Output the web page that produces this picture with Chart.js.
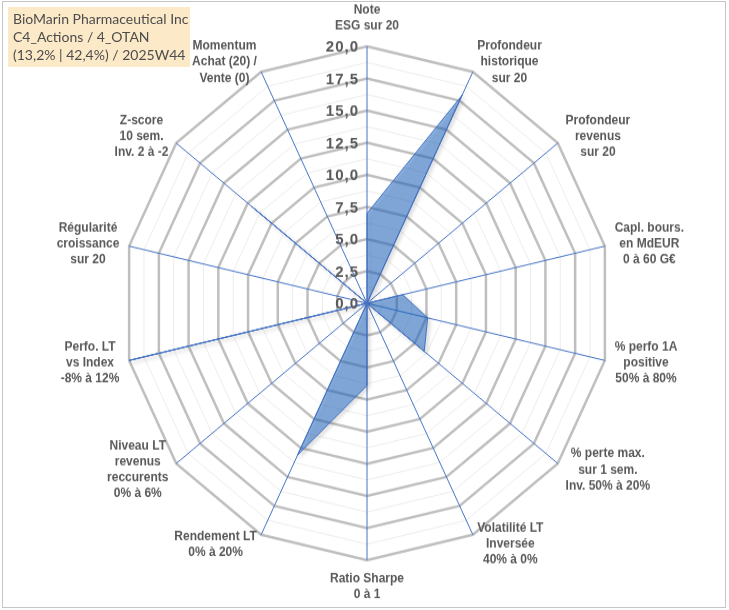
<!DOCTYPE html>
<html>
<head>
<meta charset="utf-8">
<script src="https://cdn.jsdelivr.net/npm/chart.js@4.4.1/dist/chart.umd.min.js"></script>
<style>
  html, body { margin: 0; padding: 0; background: #fff; }
  #cadre { position: absolute; left: 2px; top: 1px; width: 722px; height: 605px; border: 1px solid #c6c6c6; }
  /* le graphique Excel est un peu étiré en hauteur */
  #zone { position: absolute; left: 0; top: 0; width: 729px; height: 579px; transform: scaleY(1.053); transform-origin: 0 0; }
  #titre {
    position: absolute; left: 8px; top: 7px; width: 182px; height: 60px;
    background: rgba(250, 212, 145, 0.5);
    font: 14px Lato, "Liberation Sans", sans-serif; color: #4d4d4d;
    line-height: 18px; padding: 3px 0 0 5px; box-sizing: border-box; white-space: nowrap;
  }
</style>
</head>
<body>
<div id="cadre"></div>
<div id="zone"><canvas id="radar" width="729" height="579"></canvas></div>
<div id="titre">BioMarin Pharmaceutical Inc<br>C4_Actions / 4_OTAN<br>(13,2% | 42,4%) / 2025W44</div>
<script>
// axes du radar
var categories = [
  ['Note', 'ESG sur 20'],
  ['Profondeur', 'historique', 'sur 20'],
  ['Profondeur', 'revenus', 'sur 20'],
  ['Capl. bours.', 'en MdEUR', '0 à 60 G€'],
  ['% perfo 1A', 'positive', '50% à 80%'],
  ['% perte max.', 'sur 1 sem.', 'Inv. 50% à 20%'],
  ['Volatilité LT', 'Inversée', '40% à 0%'],
  ['Ratio Sharpe', '0 à 1'],
  ['Rendement LT', '0% à 20%'],
  ['Niveau LT', 'revenus', 'reccurents', '0% à 6%'],
  ['Perfo. LT', 'vs Index', '-8% à 12%'],
  ['Régularité', 'croissance', 'sur 20'],
  ['Z-score', '10 sem.', 'Inv. 2 à -2'],
  ['Momentum', 'Achat (20) /', 'Vente (0)']
];
// notes sur 20
var notes = [7.0, 18.0, 0, 3.0, 5.1, 6.0, 0, 6.4, 13.1, 0, 20.0, 0, 12.1, 0];
// graduations affichées
var graduations = [0, 2.5, 5, 7.5, 10, 12.5, 15, 17.5, 20];

function fmt(v) {
  return v.toFixed(1).replace('.', ',');
}

// ombre portée de la série, comme dans Excel
var ombre = {
  id: 'ombre',
  beforeDatasetsDraw: function (chart) {
    var ctx = chart.ctx;
    ctx.save();
    ctx.shadowColor = 'rgba(0,0,0,0.25)';
    ctx.shadowBlur = 4;
    ctx.shadowOffsetX = 2;
    ctx.shadowOffsetY = 2;
  },
  afterDatasetsDraw: function (chart) {
    chart.ctx.restore();
  }
};

// étiquettes des axes (lignes centrées) et graduations
var etiquettes = {
  id: 'etiquettes',
  afterDraw: function (chart) {
    var r = chart.scales.r;
    var ctx = chart.ctx;
    var pas = 15.2;
    ctx.save();
    ctx.fillStyle = '#595959';
    ctx.textAlign = 'center';
    ctx.textBaseline = 'middle';
    ctx.font = 'bold 12px "Liberation Sans", Arial, sans-serif';
    categories.forEach(function (lignes, i) {
      var p = r.getPointPosition(i, r.drawingArea + 10);
      var larg = 0;
      lignes.forEach(function (l) { larg = Math.max(larg, ctx.measureText(l).width); });
      var haut = lignes.length * pas;
      var dx = Math.cos(p.angle), dy = Math.sin(p.angle);
      var cx = p.x, cy = p.y;
      if (dx > 0.05) cx = p.x + larg / 2;
      else if (dx < -0.05) cx = p.x - larg / 2;
      else if (dy < 0) cy = p.y - haut / 2 - 2;
      else cy = p.y + haut / 2;
      lignes.forEach(function (l, j) {
        ctx.fillText(l, cx, cy - haut / 2 + pas * (j + 0.5));
      });
    });

    ctx.font = 'bold 15px "Liberation Sans", Arial, sans-serif';
    ctx.textAlign = 'right';
    if ('letterSpacing' in ctx) ctx.letterSpacing = '1px';
    graduations.forEach(function (v) {
      var p = r.getPointPosition(0, r.getDistanceFromCenterForValue(v));
      ctx.fillText(fmt(v), p.x - 8, p.y + 1);
    });
    ctx.restore();
  }
};

new Chart(document.getElementById('radar').getContext('2d'), {
  type: 'radar',
  data: {
    labels: categories,
    datasets: [{
      data: notes,
      fill: true,
      backgroundColor: 'rgba(30, 108, 205, 0.5)',
      borderColor: '#4472C4',
      borderWidth: 1,
      pointRadius: 0,
      tension: 0
    }]
  },
  options: {
    responsive: false,
    animation: false,
    layout: { padding: { left: 123, right: 118, top: 44, bottom: 47 } },
    plugins: { legend: { display: false }, tooltip: { enabled: false } },
    scales: {
      r: {
        min: 0,
        max: 20,
        ticks: { stepSize: 1.25, display: false },
        pointLabels: { display: false },
        angleLines: { color: '#4472C4', lineWidth: 1 },
        grid: {
          circular: false,
          color: function (c) { return c.tick.value % 2.5 === 0 ? '#bfbfbf' : '#ececec'; },
          lineWidth: function (c) { return c.tick.value % 2.5 === 0 ? 2.5 : 1; }
        }
      }
    }
  },
  plugins: [ombre, etiquettes]
});
</script>
</body>
</html>
